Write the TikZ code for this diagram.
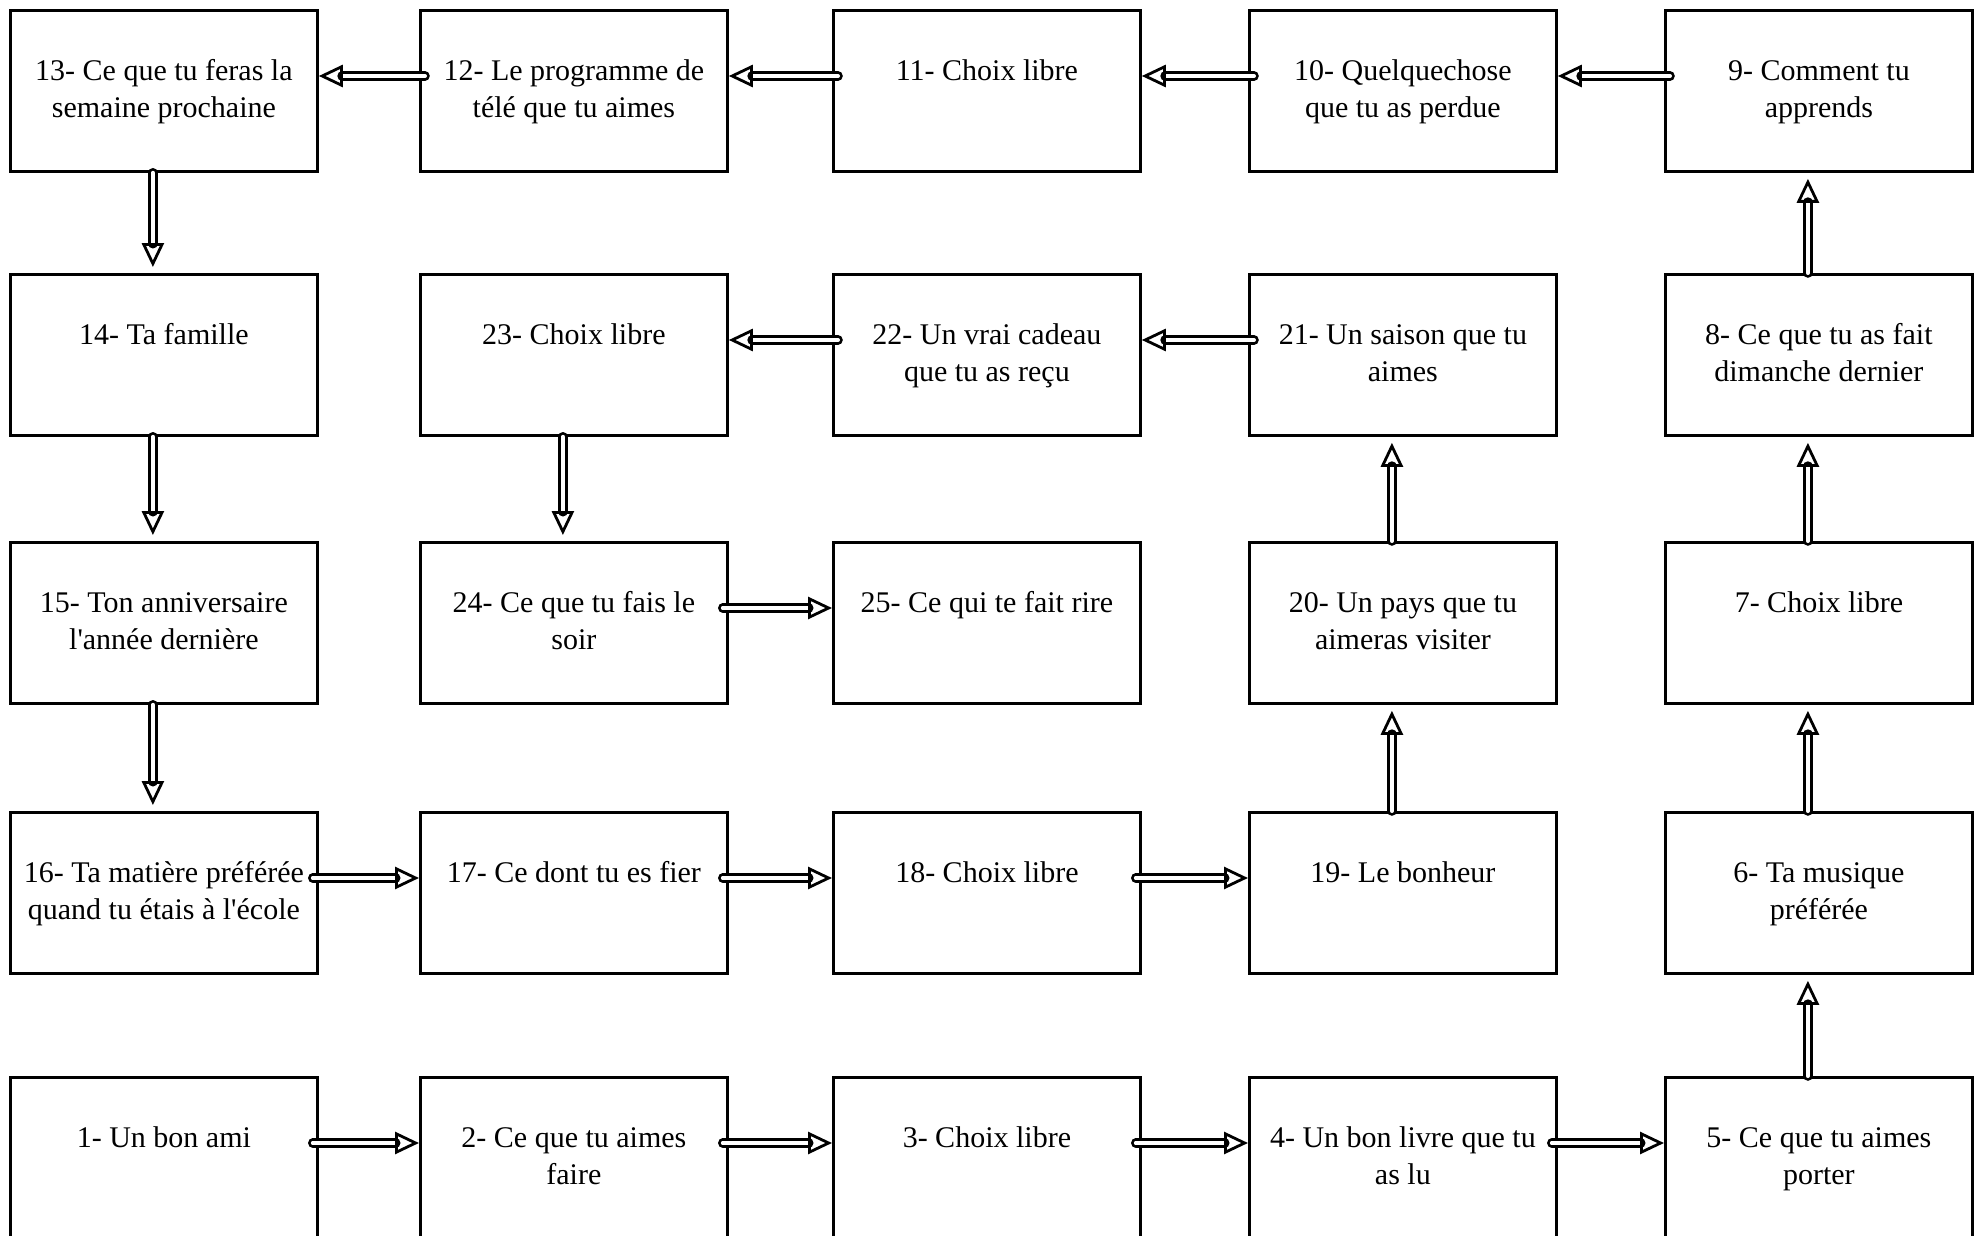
\documentclass[tikz,border=0pt]{standalone}
\usepackage{fontspec}
\setmainfont{Liberation Serif}
\usetikzlibrary{arrows.meta,calc}
\newcommand\mybox[4]{%
  \node[box] (b#1) at (#2,#3) {};
  \node[lbl] (t#1) at ([yshift=-22.5pt]b#1.north) {\rule{0pt}{13pt}#4};}
\begin{document}
\begin{tikzpicture}[x=0.5pt,y=-0.5pt,
  box/.style={draw, line width=1.4pt, minimum width=153.5pt, minimum height=80.5pt, anchor=north west, inner sep=0pt},
  lbl/.style={anchor=north, align=center, font=\fontsize{15}{18.5}\selectfont, inner sep=0pt},
  arr/.style={double, double distance=2pt, line width=1.4pt, line cap=round,
    -{Triangle[open,length=12pt,width=11pt,line width=1.4pt]}},
  harr/.style={arr, shorten <=-3pt},
  varr/.style={arr, shorten >=3pt}]
\useasboundingbox (0,0) rectangle (1983,1236);
% row 1
\mybox{13}{9}{9}{13- Ce que tu feras la\\semaine prochaine}
\mybox{12}{419}{9}{12- Le programme de\\télé que tu aimes}
\mybox{11}{832}{9}{11- Choix libre}
\mybox{10}{1248}{9}{10- Quelquechose\\que tu as perdue}
\mybox{9}{1664}{9}{9- Comment tu\\apprends}
% row 2
\mybox{14}{9}{273}{14- Ta famille}
\mybox{23}{419}{273}{23- Choix libre}
\mybox{22}{832}{273}{22- Un vrai cadeau\\que tu as reçu}
\mybox{21}{1248}{273}{21- Un saison que tu\\aimes}
\mybox{8}{1664}{273}{8- Ce que tu as fait\\dimanche dernier}
% row 3
\mybox{15}{9}{541}{15- Ton anniversaire\\l\textquotesingle année dernière}
\mybox{24}{419}{541}{24- Ce que tu fais le\\soir}
\mybox{25}{832}{541}{25- Ce qui te fait rire}
\mybox{20}{1248}{541}{20- Un pays que tu\\aimeras visiter}
\mybox{7}{1664}{541}{7- Choix libre}
% row 4
\mybox{16}{9}{811}{16- Ta matière préférée\\quand tu étais à l\textquotesingle école}
\mybox{17}{419}{811}{17- Ce dont tu es fier}
\mybox{18}{832}{811}{18- Choix libre}
\mybox{19}{1248}{811}{19- Le bonheur}
\mybox{6}{1664}{811}{6- Ta musique\\préférée}
% row 5
\mybox{1}{9}{1076}{1- Un bon ami}
\mybox{2}{419}{1076}{2- Ce que tu aimes\\faire}
\mybox{3}{832}{1076}{3- Choix libre}
\mybox{4}{1248}{1076}{4- Un bon livre que tu\\as lu}
\mybox{5}{1664}{1076}{5- Ce que tu aimes\\porter}
% horizontal arrows
\foreach \a/\b in {1/2,2/3,3/4,4/5,16/17,17/18,18/19,24/25}
  \draw[harr] ([yshift=-33.5pt]b\a.north east) -- ([yshift=-33.5pt]b\b.north west);
\foreach \a/\b in {9/10,10/11,11/12,12/13,21/22,22/23}
  \draw[harr] ([yshift=-33.5pt]b\a.north west) -- ([yshift=-33.5pt]b\b.north east);
% vertical arrows up
\foreach \a/\b in {5/6,6/7,7/8,8/9,19/20,20/21}
  \draw[varr] ([xshift=-5.5pt]b\a.north) -- ([xshift=-5.5pt]b\b.south);
% vertical arrows down
\foreach \a/\b in {13/14,14/15,15/16,23/24}
  \draw[varr] ([xshift=-5.5pt]b\a.south) -- ([xshift=-5.5pt]b\b.north);
\end{tikzpicture}
\end{document}
